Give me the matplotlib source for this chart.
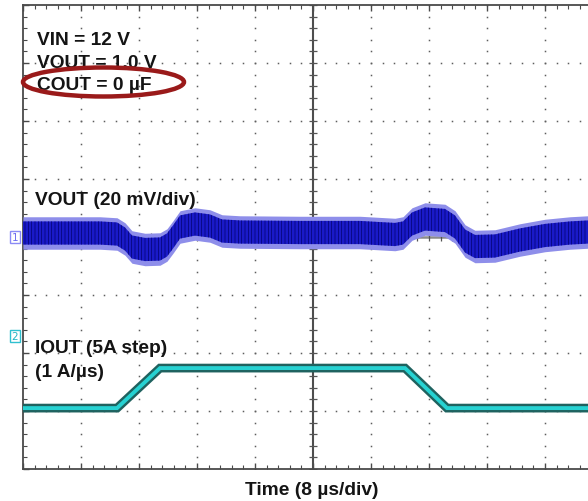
import numpy as np
import matplotlib
matplotlib.use("Agg")
import matplotlib.pyplot as plt
from matplotlib.patches import Ellipse

# ---------------- data ----------------
# VOUT trace (20 mV/div): centre of the noisy band, in mV, vs time in us
vout_t_us = [0, 5.10, 10.62, 12.97, 14.07, 15.03, 16.83, 18.90, 19.86, 20.69,
             21.66, 23.72, 25.79, 27.45, 29.93, 38.21, 46.48, 51.31, 52.41, 53.66,
             55.45, 58.21, 59.59, 60.97, 62.34, 65.10, 68.55, 72.00, 75.45, 77.93,
             80.0]
vout_mid_mv = [1.38, 1.38, 1.38, 1.03, -0.69, -3.45, -4.31, -4.14, -2.76, 0.0,
               3.45, 4.48, 3.79, 2.07, 1.72, 1.55, 1.55, 0.86, 1.38, 4.48,
               6.21, 5.69, 3.45, -1.38, -3.28, -3.10, -1.03, 0.52, 1.38, 1.72,
               1.72]
vout_noise_mv = 4.0      # half width of the dense noise band
vout_spike_mv = 5.6      # half width including the outer noise spikes
mv_per_div = 20

# IOUT trace (5 A step, 1 A/us), screen position in divisions
iout_t_us = [0, 12.97, 18.90, 52.69, 58.48, 80.0]
iout_div = [-2.95, -2.95, -2.26, -2.26, -2.95, -2.95]

info_lines = ["VIN = 12 V", "VOUT = 1.0 V", "COUT = 0 µF"]
vout_label = "VOUT (20 mV/div)"
iout_labels = ["IOUT (5A step)", "(1 A/µs)"]
x_label = "Time (8 µs/div)"
us_per_div = 8

# ---------------- figure ----------------
W, H = 588, 502
fig = plt.figure(figsize=(W / 100, H / 100), dpi=100)
fig.patch.set_facecolor("white")
plt.rcParams["hatch.linewidth"] = 0.45

# plot area: left 23 px, top 6 px, 10 x 8 divisions of 58 px (right side cut off)
ax = fig.add_axes([23 / W, (H - 470) / H, 580 / W, 464 / H])
ax.set_xlim(0, 10 * us_per_div)
ax.set_ylim(-4, 4)
ax.set_facecolor("white")

frame_c = "#4a4a4a"
for s in ax.spines.values():
    s.set_color(frame_c)
    s.set_linewidth(1.3)

# major / minor ticks on the frame
ax.set_xticks(np.arange(0, 81, us_per_div))
ax.set_xticks(np.arange(0, 80.01, us_per_div / 5), minor=True)
ax.set_yticks(np.arange(-4, 4.01, 1))
ax.set_yticks(np.arange(-4, 4.01, 0.2), minor=True)
ax.tick_params(which="both", direction="in", top=True, right=False,
               labelbottom=False, labelleft=False, color=frame_c)
ax.tick_params(which="major", length=4, width=1.0)
ax.tick_params(which="minor", length=3, width=0.8)

# dotted graticule
dot_c = "#5e5e5e"
xs_major = np.arange(us_per_div, 80, us_per_div)
ys_minor = np.arange(-4, 4.001, 0.2)
for xm in xs_major:
    if abs(xm - 40) < 1e-6:
        continue
    ax.plot(np.full_like(ys_minor, xm), ys_minor, ls="none", marker="s",
            ms=1.1, mec="none", mfc=dot_c, zorder=1)
xs_minor = np.arange(0, 80.001, us_per_div / 5)
for ym in range(-3, 4):
    if ym == 0:
        continue
    ax.plot(xs_minor, np.full_like(xs_minor, ym), ls="none", marker="s",
            ms=1.1, mec="none", mfc=dot_c, zorder=1)

# centre cross lines with ticks
ax.axhline(0, color="#8c8c8c", lw=1.8, zorder=2)
ax.axvline(40, color="#4e4e4e", lw=1.5, zorder=2)
ax.plot(xs_minor, np.zeros_like(xs_minor), ls="none", marker="|", ms=6,
        mew=0.9, color="#555555", zorder=2)
ax.plot(np.full_like(ys_minor, 40), ys_minor, ls="none", marker="_", ms=6,
        mew=0.9, color="#555555", zorder=2)

# VOUT trace
t = np.array(vout_t_us)
mid = np.array(vout_mid_mv) / mv_per_div
ax.fill_between(t, mid - vout_spike_mv / mv_per_div, mid + vout_spike_mv / mv_per_div,
                color="#8e8eea", lw=0, zorder=3)
ax.fill_between(t, mid - vout_noise_mv / mv_per_div, mid + vout_noise_mv / mv_per_div,
                facecolor="#1a1ac8", edgecolor="#000066", hatch="|||||", lw=0, zorder=4)

# IOUT trace
ax.plot(iout_t_us, iout_div, color="#1f625f", lw=6.3, solid_joinstyle="miter",
        zorder=5)
ax.plot(iout_t_us, iout_div, color="#26d2d2", lw=2.8, solid_joinstyle="miter",
        zorder=6)

# ---------------- texts ----------------
font = dict(family=["Liberation Sans", "DejaVu Sans"], fontweight="bold",
            fontsize=13.8, color="#141414")


def ftext(x_px, y_px, s, **kw):
    d = dict(font)
    d.update(kw)
    fig.text(x_px / W, (H - y_px) / H, s, va="baseline", **d)


for i, s in enumerate(info_lines):
    ftext(37, 45 + i * 22.5, s)
ftext(35, 205, vout_label)
ftext(35, 353, iout_labels[0])
ftext(35, 377, iout_labels[1])
ftext(312, 495, x_label, ha="center")

# channel markers
fig.text(15 / W, (H - 238) / H, "1", ha="center", va="center",
         family="DejaVu Sans", fontsize=7.5, color="#6f6ff0",
         bbox=dict(boxstyle="square,pad=0.12", fc="white", ec="#8a8af5", lw=1.0))
fig.text(15 / W, (H - 337) / H, "2", ha="center", va="center",
         family="DejaVu Sans", fontsize=7.5, color="#20b4c4",
         bbox=dict(boxstyle="square,pad=0.12", fc="white", ec="#30c0d0", lw=1.0))

# red ellipse around COUT
ell = Ellipse((103.5 / W, (H - 83) / H), 161 / W, 29 / H, transform=fig.transFigure,
              fill=False, ec="#9a1a1a", lw=3.2, zorder=10)
fig.add_artist(ell)

fig.savefig("out.png", dpi=100)
